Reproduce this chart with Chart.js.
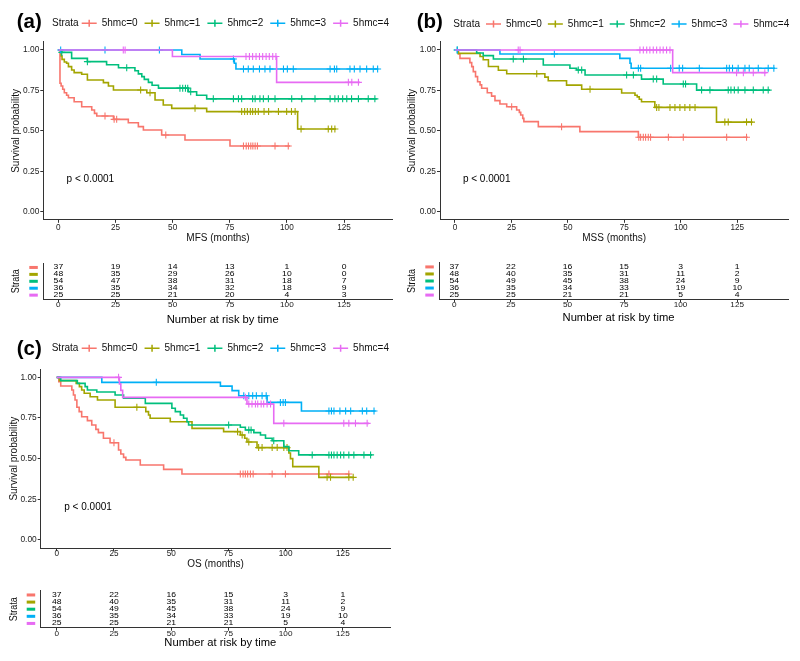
<!DOCTYPE html>
<html><head><meta charset="utf-8">
<script src="https://cdn.jsdelivr.net/npm/chart.js@4.4.1/dist/chart.umd.min.js"></script>
<style>
html,body{margin:0;padding:0;background:#fff;}
#wrap{position:relative;width:800px;height:661px;overflow:hidden;background:#fff;}
canvas{position:absolute;}
</style></head><body>
<div id="wrap">
<canvas id="pa" width="400" height="245" style="left:0;top:0;width:400px;height:245px"></canvas>
<canvas id="pb" width="400" height="245" style="left:400px;top:0;width:400px;height:245px"></canvas>
<canvas id="ra" width="400" height="85" style="left:0;top:245px;width:400px;height:85px"></canvas>
<canvas id="rb" width="400" height="85" style="left:400px;top:245px;width:400px;height:85px"></canvas>
<canvas id="pc" width="400" height="245" style="left:0;top:330px;width:400px;height:245px"></canvas>
<canvas id="rc" width="400" height="86" style="left:0;top:575px;width:400px;height:86px"></canvas>
</div>
<script>
const FONT = "'Liberation Sans', Arial, Helvetica, sans-serif";
const strata = ['5hmc=0','5hmc=1','5hmc=2','5hmc=3','5hmc=4'];
const colors = ['#F8766D','#A3A500','#00BF7D','#00B0F6','#E76BF3'];
const xTicks = [0,25,50,75,100,125];
const xTickLabels = ['0','25','50','75','100','125'];
const yTicks = [0,0.25,0.5,0.75,1];
const yTickLabels = ['0.00','0.25','0.50','0.75','1.00'];
const riskTimes = [0,25,50,75,100,125];
const pText = 'p < 0.0001';

// ---------- MFS (a): [time, survival] step points ----------
const mfsCurve0 = [[0,1],[0.7,0.794],[1.2,0.777],[1.9,0.757],[2.6,0.736],[3.6,0.72],[4.4,0.705],[6.9,0.68],[10.2,0.649],[14.6,0.629],[15.8,0.608],[16.8,0.592],[24.1,0.571],[30.6,0.55],[35,0.526],[37.2,0.505],[45.2,0.474],[55.4,0.443],[75.1,0.406],[101.4,0.406]];
const mfsCens0 = [20.4,24.4,25.5,47,81,82.2,83.2,84.2,85.1,86.1,87.1,94.8,100.6];
const mfsCurve1 = [[0,1],[1.2,0.963],[1.6,0.942],[2.6,0.926],[3.6,0.918],[4.4,0.897],[5.8,0.876],[6.9,0.86],[10.2,0.85],[12.7,0.814],[19.7,0.798],[21.9,0.777],[24.1,0.753],[38.7,0.736],[42.3,0.691],[45.9,0.66],[49.6,0.639],[64.9,0.619],[104.7,0.511],[121.5,0.511]];
const mfsCens1 = [36,40.1,59.8,80.2,81.5,82.7,84,85,86.2,87.5,90,92,96.3,99.9,102,103.6,106.2,118.1,119.6,121];
const mfsCurve2 = [[0,1],[1.5,0.985],[5.8,0.948],[12.7,0.928],[21.1,0.909],[26.3,0.89],[33.5,0.872],[35,0.852],[36.5,0.835],[37.6,0.818],[39.4,0.8],[41,0.782],[43.8,0.764],[56.9,0.742],[60.5,0.72],[64.9,0.698],[139.3,0.698]];
const mfsCens2 = [1.5,12.7,29.9,53.2,54.4,55.6,56.6,57.9,67.8,76.6,78.8,80.2,85,86.1,88.2,89.7,91.9,94.8,102.1,106.5,112.3,118.9,121,122.5,124.4,126.2,128.3,131.3,135.6,138.5];
const mfsCurve3 = [[0,1],[54,0.972],[62,0.944],[77,0.918],[77.7,0.882],[140,0.882]];
const mfsCens3 = [1,20.4,44.2,76.6,81,83.1,85.3,88,90.4,92.6,98.5,100.2,102.8,118.9,120.8,121.8,127.6,129.5,132,134.9,137.8,139.7];
const mfsCurve4 = [[0,1],[49.9,0.96],[95.5,0.8],[132,0.8]];
const mfsCens4 = [28.4,29.2,82.1,83.6,85,86.5,88,89.4,90.9,92.3,93.8,95.2,126.9,128.4,131.3];

// ---------- MSS (b) ----------
const mssCurve0 = [[0,1],[1.5,0.975],[2.2,0.948],[6.6,0.922],[7.4,0.897],[8.1,0.866],[9.1,0.835],[10,0.804],[11.1,0.784],[11.8,0.763],[14.3,0.736],[16.2,0.715],[17.7,0.687],[19.9,0.666],[22.9,0.649],[27.3,0.629],[28.5,0.614],[29.1,0.598],[30,0.577],[30.5,0.557],[36.9,0.526],[55.3,0.495],[81.2,0.46],[129.6,0.46]];
const mssCens0 = [25.1,47.2,81.4,82.2,83.4,84.4,85.6,86.6,94.5,101.1,120.3,129.1];
const mssCurve1 = [[0,1],[1.5,0.979],[11.1,0.96],[12.5,0.94],[14.8,0.898],[19.2,0.875],[22.9,0.853],[39.8,0.832],[41.3,0.81],[49.4,0.783],[56.1,0.757],[73.8,0.734],[79.7,0.72],[80.7,0.71],[81.6,0.695],[82.6,0.68],[88.5,0.645],[115.8,0.554],[131.8,0.554]];
const mssCens1 = [36.2,59.8,89.3,90.3,95.2,97.4,99.6,101.8,104,106.3,119.5,121,129.1,131.3];
const mssCurve2 = [[0,1],[9.6,0.981],[12.5,0.965],[17,0.944],[39.1,0.907],[50.9,0.887],[53.9,0.876],[57.6,0.845],[82.6,0.82],[92.2,0.79],[107,0.752],[139.5,0.752]];
const mssCens2 = [1,25.8,30.3,54.6,56.1,76,79,87.8,89.3,101.1,102.1,109.2,112.9,121,122.2,123.7,125.4,128.4,132.1,136.5,138.7];
const mssCurve3 = [[0,1],[19.9,0.975],[73,0.948],[77.5,0.918],[78,0.887],[141.7,0.887]];
const mssCens3 = [1,44,81.2,82.2,95.5,99.3,100.8,108.2,120.3,121.5,122.9,125.4,128.4,130.3,134.3,138.7,141.2];
const mssCurve4 = [[0,1],[96.4,0.86],[138,0.86]];
const mssCens4 = [28,28.8,81.9,83.4,84.9,86.3,87.8,89.3,90.8,92.2,93.7,95.2,124.7,127.7,132.1,137.2];

// ---------- OS (c) ----------
const osCurve0 = [[0,1],[0.9,0.973],[1.75,0.947],[6.6,0.922],[7.3,0.891],[8,0.861],[8.8,0.816],[9.8,0.789],[10.9,0.758],[13.4,0.734],[15.3,0.707],[17.1,0.68],[18.2,0.66],[20.4,0.625],[23.3,0.598],[27,0.553],[28,0.529],[29.2,0.508],[30.2,0.492],[36.5,0.461],[46.7,0.434],[54.7,0.406],[127.9,0.406]];
const osCens0 = [25,80.2,81.4,82.4,83.4,84.6,85.8,94.1,99.9,118.9,127.6];
const osCurve1 = [[0,1],[1.2,0.98],[8.5,0.963],[9.9,0.943],[10.9,0.922],[12,0.902],[14.6,0.881],[17.8,0.861],[25.5,0.816],[38.9,0.789],[40.1,0.768],[40.8,0.748],[49.6,0.727],[59.1,0.686],[72.9,0.666],[80.2,0.645],[82.1,0.625],[83.1,0.602],[87.5,0.568],[101.4,0.535],[102.1,0.5],[103.1,0.451],[114.5,0.385],[129.8,0.385]];
const osCens1 = [35,79,81,83.9,88.2,89.7,94.1,96.3,99.2,100.6,118.1,119.6,127.6,129.5];
const osCurve2 = [[0,1],[1.75,0.98],[9,0.963],[12.4,0.943],[13.4,0.922],[17.5,0.91],[25.5,0.891],[29.2,0.871],[38.7,0.84],[50.3,0.81],[51.8,0.789],[54,0.768],[55.4,0.748],[56.9,0.727],[57.6,0.707],[80.2,0.693],[82.4,0.676],[86.1,0.66],[89,0.645],[91.2,0.625],[94.1,0.61],[99.2,0.574],[101.4,0.549],[105.7,0.523],[137.8,0.523]];
const osCens2 = [75.1,83.9,84.9,94.8,111.6,118.9,120,121.1,122.5,124,125.4,127.6,129.8,134.2,137.1];
const osCurve3 = [[0,1],[19.7,0.969],[71.5,0.946],[76.6,0.918],[79.5,0.887],[91.9,0.846],[106.9,0.793],[139.3,0.793]];
const osCens3 = [43.5,81.7,83.9,85.6,87.2,89.7,91.5,97.7,98.9,99.9,118.9,120,121.1,123.7,126.2,128.4,133.5,135.4,138.6];
const osCurve4 = [[0,1],[27.4,0.96],[28,0.92],[28.8,0.877],[83.1,0.836],[94.8,0.717],[136.4,0.717]];
const osCens4 = [27,82.4,83.9,85.3,86.8,87.8,89.3,90.4,91.9,93.4,99.2,125.4,127.6,130.5,135.6];

// ---------- Number at risk ----------
const mfsRisk0 = [37,19,14,13,1,0];
const mfsRisk1 = [48,35,29,26,10,0];
const mfsRisk2 = [54,47,38,31,18,7];
const mfsRisk3 = [36,35,34,32,18,9];
const mfsRisk4 = [25,25,21,20,4,3];
const mssRisk0 = [37,22,16,15,3,1];
const mssRisk1 = [48,40,35,31,11,2];
const mssRisk2 = [54,49,45,38,24,9];
const mssRisk3 = [36,35,34,33,19,10];
const mssRisk4 = [25,25,21,21,5,4];
const osRisk0 = [37,22,16,15,3,1];
const osRisk1 = [48,40,35,31,11,2];
const osRisk2 = [54,49,45,38,24,9];
const osRisk3 = [36,35,34,33,19,10];
const osRisk4 = [25,25,21,21,5,4];

function survAt(curve, t) {
  let s = 1;
  for (const p of curve) { if (p[0] <= t) s = p[1]; else break; }
  return s;
}

const decorPlugin = {
  id: 'decor',
  afterDraw(chart, args, o) {
    const ctx = chart.ctx;
    ctx.save();
    ctx.textAlign = 'left'; ctx.textBaseline = 'middle';
    ctx.fillStyle = '#000';
    ctx.font = 'bold 20.5px ' + FONT;
    ctx.fillText(o.label, o.labelX, o.labelY);
    ctx.font = '10px ' + FONT;
    ctx.fillStyle = '#111';
    ctx.fillText('Strata', o.legendX, o.legendY);
    let x = o.itemX;
    strata.forEach((n, i) => {
      ctx.strokeStyle = colors[i]; ctx.lineWidth = 1.5;
      ctx.beginPath();
      ctx.moveTo(x, o.legendY); ctx.lineTo(x + 15, o.legendY);
      ctx.moveTo(x + 7.5, o.legendY - 3.5); ctx.lineTo(x + 7.5, o.legendY + 3.5);
      ctx.stroke();
      ctx.fillStyle = '#111';
      ctx.fillText(n, x + 20, o.legendY);
      x += 20 + ctx.measureText(n).width + o.gap;
    });
    const xs = chart.scales.x, ys = chart.scales.y;
    ctx.font = '10px ' + FONT;
    ctx.fillStyle = '#000';
    ctx.fillText(pText, xs.getPixelForValue(o.pX), ys.getPixelForValue(o.pY));
    ctx.restore();
  }
};

function squashText(ctx, txt, x, y, size, sy) {
  ctx.save();
  ctx.translate(x, y);
  ctx.scale(1, sy);
  ctx.font = size + 'px ' + FONT;
  ctx.textAlign = 'center'; ctx.textBaseline = 'middle';
  ctx.fillText(txt, 0, 0);
  ctx.restore();
}

const riskPlugin = {
  id: 'risk',
  afterDraw(chart, args, o) {
    const ctx = chart.ctx, xs = chart.scales.x, ys = chart.scales.y, ca = chart.chartArea;
    ctx.save();
    o.rows.forEach((row, i) => {
      const y = ys.getPixelForValue(i + 1);
      ctx.fillStyle = colors[i];
      ctx.fillRect(ca.left - 14, y - 1.5, 8.5, 3);
      ctx.fillStyle = '#000';
      row.forEach((v, j) => squashText(ctx, String(v), xs.getPixelForValue(riskTimes[j]), y, 8.6, 0.85));
    });
    ctx.fillStyle = '#222';
    xTicks.forEach((v, j) => squashText(ctx, xTickLabels[j], xs.getPixelForValue(v), ca.bottom + o.tickDy, 8.2, 0.8));
    ctx.fillStyle = '#000';
    squashText(ctx, 'Number at risk by time', (ca.left + ca.right) / 2 + 4.7, ca.bottom + o.titleDy, 11.2, 0.92);
    ctx.save();
    ctx.translate(ca.left - 26.7, (ca.top + ca.bottom) / 2);
    ctx.rotate(-Math.PI / 2);
    ctx.scale(0.9, 1);
    ctx.font = '10px ' + FONT;
    ctx.textAlign = 'center'; ctx.textBaseline = 'middle';
    ctx.fillStyle = '#111';
    ctx.fillText('Strata', 0, 0);
    ctx.restore();
    ctx.restore();
  }
};

const axisColor = '#333';

function plotChart(id, curves, cens, cfg) {
  const datasets = [];
  curves.forEach((c, i) => {
    datasets.push({
      label: strata[i], data: c.map(p => ({x: p[0], y: p[1]})),
      borderColor: colors[i], backgroundColor: colors[i], borderWidth: 1.6,
      stepped: 'before', pointRadius: 0, fill: false, order: 20 - 2 * i
    });
    datasets.push({
      label: strata[i] + ' censor', data: cens[i].map(t => ({x: t, y: survAt(c, t)})),
      showLine: false, borderColor: colors[i], backgroundColor: colors[i],
      pointStyle: 'cross', pointRadius: 3.5, borderWidth: 1.1, order: 19 - 2 * i
    });
  });
  new Chart(document.getElementById(id), {
    type: 'line',
    data: {datasets},
    options: {
      responsive: false, animation: false, events: [],
      layout: {padding: {left: 0, top: cfg.T, right: cfg.R, bottom: 0}},
      plugins: {legend: {display: false}, tooltip: {enabled: false},
        decor: {label: cfg.label, labelX: cfg.labelX, labelY: cfg.labelY, legendX: cfg.legendX, legendY: cfg.legendY, itemX: cfg.itemX, gap: cfg.gap, pX: cfg.pX, pY: 0.2}},
      scales: {
        x: {
          type: 'linear', min: cfg.xMin, max: cfg.xMax,
          afterBuildTicks: s => { s.ticks = xTicks.map(v => ({value: v})); },
          ticks: {callback: (v, i) => xTickLabels[i], font: {family: FONT, size: 8.2, lineHeight: 1}, color: '#222', padding: cfg.xTickPad, maxRotation: 0, autoSkip: false},
          grid: {display: true, drawOnChartArea: false, drawTicks: true, tickLength: 3, tickColor: axisColor, tickWidth: 1},
          border: {display: true, color: axisColor, width: 1},
          title: {display: true, text: cfg.xTitle, font: {family: FONT, size: 10}, color: '#111', padding: {top: 0, bottom: cfg.xTitlePad}},
          afterFit: s => { s.height = cfg.H; }
        },
        y: {
          type: 'linear', min: -0.05, max: 1.05,
          afterBuildTicks: s => { s.ticks = yTicks.map(v => ({value: v})); },
          ticks: {callback: (v, i) => yTickLabels[i], font: {family: FONT, size: 8.4, lineHeight: 1}, color: '#222', padding: 1, autoSkip: false},
          grid: {display: true, drawOnChartArea: false, drawTicks: true, tickLength: 3, tickColor: axisColor, tickWidth: 1},
          border: {display: true, color: axisColor, width: 1},
          title: {display: true, text: 'Survival probability', font: {family: FONT, size: 10}, color: '#111', padding: {top: cfg.yTitlePad, bottom: 0}},
          afterFit: s => { s.width = cfg.W; }
        }
      }
    },
    plugins: [decorPlugin]
  });
}

function riskChart(id, rows, cfg) {
  new Chart(document.getElementById(id), {
    type: 'line',
    data: {datasets: []},
    options: {
      responsive: false, animation: false, events: [],
      layout: {padding: {left: 0, top: cfg.T, right: cfg.R, bottom: 0}},
      plugins: {legend: {display: false}, tooltip: {enabled: false},
        risk: {rows: rows, tickDy: cfg.tickDy, titleDy: cfg.titleDy}},
      scales: {
        x: {
          type: 'linear', min: cfg.xMin, max: cfg.xMax,
          afterBuildTicks: s => { s.ticks = xTicks.map(v => ({value: v})); },
          ticks: {display: false},
          grid: {display: true, drawOnChartArea: false, drawTicks: true, tickLength: 3, tickColor: axisColor, tickWidth: 1},
          border: {display: true, color: axisColor, width: 1},
          afterFit: s => { s.height = cfg.H; }
        },
        y: {
          type: 'linear', min: 0.4, max: 5.6, reverse: true,
          ticks: {display: false},
          grid: {display: false},
          border: {display: true, color: axisColor, width: 1},
          afterFit: s => { s.width = cfg.W; }
        }
      }
    },
    plugins: [riskPlugin]
  });
}

plotChart('pa', [mfsCurve0, mfsCurve1, mfsCurve2, mfsCurve3, mfsCurve4],
  [mfsCens0, mfsCens1, mfsCens2, mfsCens3, mfsCens4],
  {T: 41.9, R: 7.3, H: 25.2, W: 43.3, xMin: -6.6, xMax: 146.3, xTitle: 'MFS (months)', xTitlePad: 0.7, xTickPad: 0.6, yTitlePad: 10.7,
   label: '(a)', labelX: 16.7, labelY: 22, legendX: 52, legendY: 23.3, itemX: 81.7, gap: 7, pX: 3.6});
plotChart('pb', [mssCurve0, mssCurve1, mssCurve2, mssCurve3, mssCurve4],
  [mssCens0, mssCens1, mssCens2, mssCens3, mssCens4],
  {T: 41.9, R: 11.7, H: 25.2, W: 40, xMin: -6.64, xMax: 147.6, xTitle: 'MSS (months)', xTitlePad: 0.7, xTickPad: 0.6, yTitlePad: 6.5,
   label: '(b)', labelX: 16.7, labelY: 22.5, legendX: 53.3, legendY: 24, itemX: 86, gap: 6, pX: 3.5});
plotChart('pc', [osCurve0, osCurve1, osCurve2, osCurve3, osCurve4],
  [osCens0, osCens1, osCens2, osCens3, osCens4],
  {T: 39.2, R: 9.5, H: 26.9, W: 40.7, xMin: -7, xMax: 145.8, xTitle: 'OS (months)', xTitlePad: 4.7, xTickPad: -1.6, yTitlePad: 8.2,
   label: '(c)', labelX: 16.7, labelY: 19, legendX: 51.7, legendY: 18.3, itemX: 81.7, gap: 7, pX: 3.3});

riskChart('ra', [mfsRisk0, mfsRisk1, mfsRisk2, mfsRisk3, mfsRisk4],
  {T: 18.3, R: 7.3, H: 85 - 54.3, W: 43.3, xMin: -6.6, xMax: 146.3, tickDy: 5.9, titleDy: 20.5});
riskChart('rb', [mssRisk0, mssRisk1, mssRisk2, mssRisk3, mssRisk4],
  {T: 17.7, R: 11.7, H: 85 - 54.3, W: 39.3, xMin: -6.64, xMax: 147.6, tickDy: 5.9, titleDy: 19});
riskChart('rc', [osRisk0, osRisk1, osRisk2, osRisk3, osRisk4],
  {T: 15.7, R: 9.5, H: 86 - 52.7, W: 40.7, xMin: -7, xMax: 145.8, tickDy: 6.2, titleDy: 15.8});
</script>
</body></html>
